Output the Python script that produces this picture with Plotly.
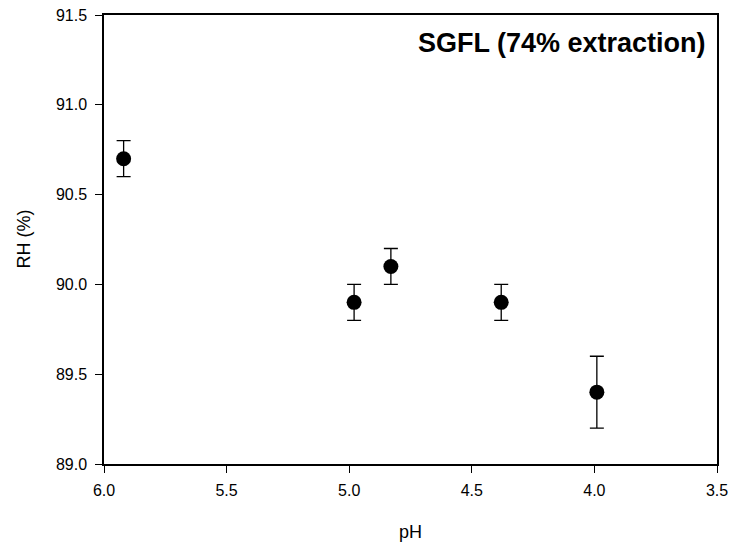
import plotly.graph_objects as go

ph = [5.92, 4.98, 4.83, 4.38, 3.99]
rh = [90.7, 89.9, 90.1, 89.9, 89.4]
rh_err = [0.1, 0.1, 0.1, 0.1, 0.2]

x_ticks = [6.0, 5.5, 5.0, 4.5, 4.0, 3.5]
y_ticks = [89.0, 89.5, 90.0, 90.5, 91.0, 91.5]

FONT = "Liberation Sans, Arial, sans-serif"

fig = go.Figure()
fig.add_trace(go.Scatter(
    x=ph, y=rh, mode="markers",
    marker=dict(size=15, color="black"),
    error_y=dict(type="data", array=rh_err, visible=True, color="black",
                 thickness=1.3, width=7),
    showlegend=False,
))

axis_common = dict(
    showline=True, linecolor="black", linewidth=1.5, mirror=True,
    ticks="outside", ticklen=7, tickwidth=1.3, tickcolor="black",
    showgrid=False, zeroline=False, automargin=False,
    tickfont=dict(family=FONT, size=16, color="black"),
)

fig.update_xaxes(
    range=[6.0, 3.5], tickvals=x_ticks, ticktext=[f"{v:.1f}" for v in x_ticks],
    ticklabelstandoff=4,
    **axis_common,
)
fig.update_yaxes(
    range=[89.0, 91.5], tickvals=y_ticks, ticktext=[f"{v:.1f}" for v in y_ticks],
    ticklabelstandoff=5,
    **axis_common,
)

fig.add_annotation(
    xref="paper", yref="paper", x=0.986, y=1 - 28 / 449, xanchor="right", yanchor="middle",
    text="<b>SGFL (74% extraction)</b>", showarrow=False,
    font=dict(family=FONT, size=27, color="black"),
)
# axis titles
fig.add_annotation(
    xref="paper", yref="paper", x=0.5, y=-68 / 449, xanchor="center", yanchor="middle",
    text="pH", showarrow=False, font=dict(family=FONT, size=18, color="black"),
)
fig.add_annotation(
    xref="paper", yref="paper", x=-81 / 613, y=0.5, xanchor="center", yanchor="middle",
    text="RH (%)", textangle=-90, showarrow=False,
    font=dict(family=FONT, size=18, color="black"),
)

fig.update_layout(
    width=732, height=546,
    margin=dict(l=104, r=15, t=15, b=82),
    plot_bgcolor="white", paper_bgcolor="white",
)

fig.write_html(
    "out.html",
    config={"displayModeBar": False},
    post_script="document.body.style.margin='0';document.body.style.overflow='hidden';",
)
